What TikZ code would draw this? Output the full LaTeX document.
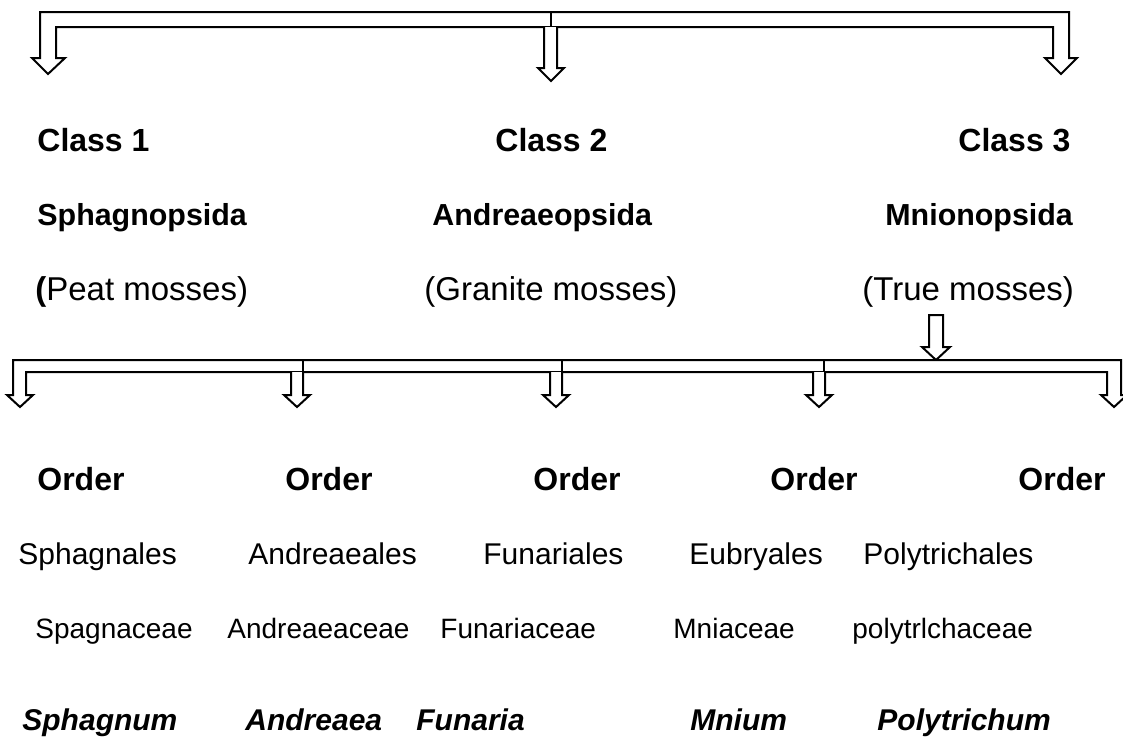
\documentclass[tikz,border=0pt]{standalone}
\usepackage{fontspec}
\setmainfont{Liberation Sans}
\tikzset{
	classtxt/.style={anchor=base west, inner sep=0pt, font=\bfseries\fontsize{16}{19}\selectfont},
	subtxt/.style={anchor=base west, inner sep=0pt, font=\bfseries\fontsize{15.2}{18}\selectfont},
	commontxt/.style={anchor=base west, inner sep=0pt, font=\fontsize{16.5}{20}\selectfont},
	ordertxt/.style={anchor=base west, inner sep=0pt, font=\bfseries\fontsize{16}{19}\selectfont},
	ordname/.style={anchor=base west, inner sep=0pt, font=\fontsize{15}{18}\selectfont},
	famname/.style={anchor=base west, inner sep=0pt, font=\fontsize{14}{17}\selectfont},
	genname/.style={anchor=base west, inner sep=0pt, font=\bfseries\itshape\fontsize{15}{18}\selectfont},
	blockarrow/.style={draw=black, line width=1pt, line join=miter, fill=white}
}
\begin{document}
\begin{tikzpicture}[x=0.5pt, y=-0.5pt]
	\useasboundingbox (0,0) rectangle (1123,745);
	
	% Khung mũi tên trên cùng
	\draw[blockarrow] (40,12) -- (1069,12) -- (1069,58) -- (1077,58) -- (1061,74) -- (1045,58) -- (1053,58)
		-- (1053,27) -- (56,27) -- (56,58) -- (65,58) -- (48,74) -- (32,58) -- (40,58) -- cycle;
	\draw[line width=1pt] (551,12) -- (551,27);
	\draw[blockarrow] (544,27) -- (544,68) -- (538,68) -- (551,81) -- (564,68) -- (557,68) -- (557,27);
	
	% Các lớp
	\node[classtxt] (cls1) at (37,151) {Class 1};
	\node[classtxt] (cls2) at (495,151) {Class 2};
	\node[classtxt] (cls3) at (958,151) {Class 3};
	\node[subtxt] (sub1) at (37,225) {Sphagnopsida};
	\node[subtxt] (sub2) at (432,225) {Andreaeopsida};
	\node[subtxt] (sub3) at (885,225) {Mnionopsida};
	\node[commontxt] (com1) at (35,300) {\textbf{(}Peat mosses)};
	\node[commontxt] (com2) at (424,300) {(Granite mosses)};
	\node[commontxt] (com3) at (862,300) {(True mosses)};
	
	% Mũi tên xuống từ True mosses
	\draw[blockarrow] (929,315) -- (929,347) -- (922,347) -- (936,360) -- (950,347) -- (943,347) -- (943,315) -- cycle;
	
	% Khung mũi tên thứ hai
	\draw[blockarrow] (13,360) -- (1121,360) -- (1121,395) -- (1127,395) -- (1114,407) -- (1101,395) -- (1107,395)
		-- (1107,372) -- (26,372) -- (26,395) -- (33,395) -- (20,407) -- (7,395) -- (13,395) -- cycle;
	\draw[line width=1pt] (303,360) -- (303,372);
	\draw[line width=1pt] (562,360) -- (562,372);
	\draw[line width=1pt] (824,360) -- (824,372);
	\draw[blockarrow] (291,372) -- (291,395) -- (284,395) -- (297,407) -- (310,395) -- (303,395) -- (303,372);
	\draw[blockarrow] (550,372) -- (550,395) -- (543,395) -- (556,407) -- (569,395) -- (562,395) -- (562,372);
	\draw[blockarrow] (813,372) -- (813,395) -- (806,395) -- (819,407) -- (832,395) -- (825,395) -- (825,372);
	
	% Các bộ
	\node[ordertxt] (ord1) at (37,490) {Order};
	\node[ordertxt] (ord2) at (285,490) {Order};
	\node[ordertxt] (ord3) at (533,490) {Order};
	\node[ordertxt] (ord4) at (770,490) {Order};
	\node[ordertxt] (ord5) at (1018,490) {Order};
	\node[ordname] (on1) at (18,564) {Sphagnales};
	\node[ordname] (on2) at (248,564) {Andreaeales};
	\node[ordname] (on3) at (483,564) {Funariales};
	\node[ordname] (on4) at (689,564) {Eubryales};
	\node[ordname] (on5) at (863,564) {Polytrichales};
	
	% Các họ
	\node[famname] (fam1) at (35,638) {Spagnaceae};
	\node[famname] (fam2) at (227,638) {Andreaeaceae};
	\node[famname] (fam3) at (440,638) {Funariaceae};
	\node[famname] (fam4) at (673,638) {Mniaceae};
	\node[famname] (fam5) at (852,638) {polytrlchaceae};
	
	% Các chi
	\node[genname] (gen1) at (22,730) {Sphagnum};
	\node[genname] (gen2) at (245,730) {Andreaea};
	\node[genname] (gen3) at (416,730) {Funaria};
	\node[genname] (gen4) at (690,730) {Mnium};
	\node[genname] (gen5) at (877,730) {Polytrichum};
\end{tikzpicture}
\end{document}
